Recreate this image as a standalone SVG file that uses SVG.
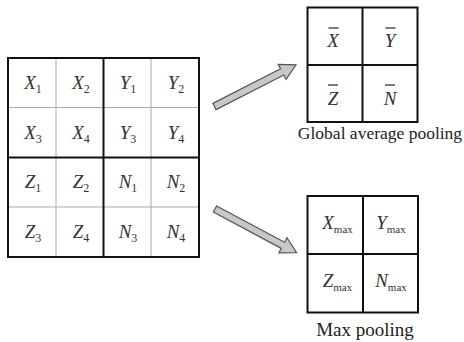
<svg xmlns="http://www.w3.org/2000/svg" width="464" height="342" viewBox="0 0 464 342">
<style>
.t{font-family:"Liberation Serif","Times New Roman",serif;font-style:italic;font-size:19px;fill:#333;text-anchor:middle}
.s{font-style:normal;font-size:12px}
.m{font-style:normal;font-size:11px}
.lab{font-family:"Liberation Serif","Times New Roman",serif;font-size:19px;fill:#222;text-anchor:middle}
.thin{stroke:#aaa;stroke-width:1;fill:none}
.thick{stroke:#111;stroke-width:2;fill:none}
.bar{stroke:#333;stroke-width:1.3}
.arr{fill:#c8c8c8;stroke:#555;stroke-width:1.2;stroke-linejoin:miter}
</style>
<rect width="464" height="342" fill="#fff"/>
<g id="input-grid">
<line class="thin" x1="56" y1="58" x2="56" y2="257"/>
<line class="thin" x1="151" y1="58" x2="151" y2="257"/>
<line class="thin" x1="8" y1="107.5" x2="199" y2="107.5"/>
<line class="thin" x1="8" y1="207" x2="199" y2="207"/>
<line class="thick" x1="103.5" y1="58" x2="103.5" y2="257"/>
<line class="thick" x1="8" y1="157.5" x2="199" y2="157.5"/>
<rect class="thick" x="8" y="58" width="191" height="199"/>
<text class="t" x="33" y="89">X<tspan class="s" dy="4">1</tspan></text>
<text class="t" x="81" y="89">X<tspan class="s" dy="4">2</tspan></text>
<text class="t" x="128" y="89">Y<tspan class="s" dy="4">1</tspan></text>
<text class="t" x="176" y="89">Y<tspan class="s" dy="4">2</tspan></text>
<text class="t" x="33" y="138.5">X<tspan class="s" dy="4">3</tspan></text>
<text class="t" x="81" y="138.5">X<tspan class="s" dy="4">4</tspan></text>
<text class="t" x="128" y="138.5">Y<tspan class="s" dy="4">3</tspan></text>
<text class="t" x="176" y="138.5">Y<tspan class="s" dy="4">4</tspan></text>
<text class="t" x="33" y="188">Z<tspan class="s" dy="4">1</tspan></text>
<text class="t" x="81" y="188">Z<tspan class="s" dy="4">2</tspan></text>
<text class="t" x="128" y="188">N<tspan class="s" dy="4">1</tspan></text>
<text class="t" x="176" y="188">N<tspan class="s" dy="4">2</tspan></text>
<text class="t" x="33" y="238">Z<tspan class="s" dy="4">3</tspan></text>
<text class="t" x="81" y="238">Z<tspan class="s" dy="4">4</tspan></text>
<text class="t" x="128" y="238">N<tspan class="s" dy="4">3</tspan></text>
<text class="t" x="176" y="238">N<tspan class="s" dy="4">4</tspan></text>
</g>
<g id="avg-grid">
<rect class="thick" x="307.5" y="7.5" width="110" height="114.5"/>
<line class="thick" x1="362.5" y1="7.5" x2="362.5" y2="122"/>
<line class="thick" x1="307.5" y1="65" x2="417.5" y2="65"/>
<text class="t" x="333" y="47">X</text>
<line class="bar" x1="328.5" y1="28" x2="338.5" y2="28"/>
<text class="t" x="390" y="47">Y</text>
<line class="bar" x1="385.5" y1="28" x2="395.5" y2="28"/>
<text class="t" x="333" y="104.5">Z</text>
<line class="bar" x1="328" y1="85" x2="338" y2="85"/>
<text class="t" x="390" y="104.5">N</text>
<line class="bar" x1="385" y1="85" x2="395" y2="85"/>
<text class="lab" x="380" y="139" style="font-size:17.5px">Global average pooling</text>
</g>
<g id="max-grid">
<rect class="thick" x="307.5" y="196" width="110.5" height="116.5"/>
<line class="thick" x1="363" y1="196" x2="363" y2="312.5"/>
<line class="thick" x1="307.5" y1="254" x2="418" y2="254"/>
<text class="t" x="337.5" y="228.5">X<tspan class="m" dy="4">max</tspan></text>
<text class="t" x="391" y="228.5">Y<tspan class="m" dy="4">max</tspan></text>
<text class="t" x="337.5" y="286.5">Z<tspan class="m" dy="4">max</tspan></text>
<text class="t" x="391" y="286.5">N<tspan class="m" dy="4">max</tspan></text>
<text class="lab" x="365" y="336">Max pooling</text>
</g>
<g id="connectors">
<polygon class="arr" transform="translate(214.5,106.5) rotate(-27.1)" points="0,-3.5 76,-3.5 76,-8.5 91.5,0 76,8.5 76,3.5 0,3.5"/>
<polygon class="arr" transform="translate(215,209) rotate(28.1)" points="0,-3.5 77,-3.5 77,-8.5 92.5,0 77,8.5 77,3.5 0,3.5"/>
</g>
</svg>
